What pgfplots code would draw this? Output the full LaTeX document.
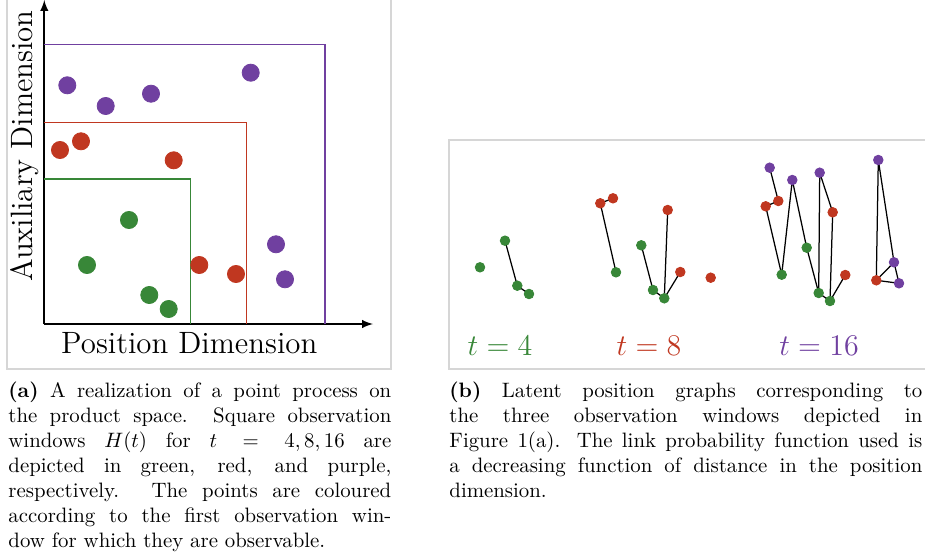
\documentclass[border=0pt]{standalone}
\usepackage{pgfplots}
\pgfplotsset{compat=1.18}
\definecolor{cgreen}{RGB}{56,135,56}
\definecolor{cred}{RGB}{192,55,32}
\definecolor{cpurple}{RGB}{112,64,160}
\definecolor{frame}{RGB}{214,214,214}
\begin{document}
\begin{tikzpicture}[x=0.48pt,y=0.48pt]
\useasboundingbox (0,0) rectangle (925,558);
\clip (0,0) rectangle (925,558);
\draw[frame, line width=0.6pt] (7,189) rectangle (391,580);
\draw[frame, line width=0.6pt] (449,189) rectangle (960,418);
% ---------------- left panel ----------------
\begin{axis}[
  at={(44.3,234)}, anchor=south west,
  x=0.48pt, y=0.48pt,
  xmin=0, xmax=328.7, ymin=0, ymax=324,
  axis lines=left,
  axis line style={line width=0.8pt, -latex},
  xtick=\empty, ytick=\empty,
  clip=false,
]
\addplot[cgreen, line width=0.7pt] coordinates {(0,145) (146.4,145) (146.4,0)};
\addplot[cred, line width=0.7pt] coordinates {(0,201.3) (202.4,201.3) (202.4,0)};
\addplot[cpurple, line width=0.7pt] coordinates {(0,279.7) (280.7,279.7) (280.7,0)};
\addplot[only marks, mark=*, mark size=4.1pt, cpurple, mark options={draw=cpurple, fill=cpurple}]
  coordinates {(23,238.7) (61.4,218) (106.7,230.3) (206.4,251.3) (231.7,79.7) (240.7,44.7)};
\addplot[only marks, mark=*, mark size=4.1pt, cred, mark options={draw=cred, fill=cred}]
  coordinates {(15.7,174) (36.7,182.7) (129.4,163.7) (155,59) (191.7,50)};
\addplot[only marks, mark=*, mark size=4.1pt, cgreen, mark options={draw=cgreen, fill=cgreen}]
  coordinates {(84.7,104) (42.7,59) (105,29) (124.4,15)};
\node[anchor=base] at (axis cs:145,-29) {\fontsize{14.8}{17}\selectfont Position Dimension};
\node[rotate=90, anchor=base] at (axis cs:-12,178) {\fontsize{14.8}{17}\selectfont Auxiliary Dimension};
\end{axis}
% ---------------- right panel ----------------
\begin{axis}[
  at={(449,189)}, anchor=south west,
  x=0.48pt, y=0.48pt,
  xmin=449, xmax=925, ymin=189, ymax=418,
  axis lines=none,
  clip=false,
]
% edges
\addplot[black, line width=0.6pt] coordinates {(505,317.3) (517.3,272.3) (529,264)};
\addplot[black, line width=0.6pt] coordinates {(613,359.7) (600.3,354.7) (616,285.7)};
\addplot[black, line width=0.6pt] coordinates {(641.3,312.7) (653,268) (664.3,259.7) (667.7,348)};
\addplot[black, line width=0.6pt] coordinates {(664.3,259.7) (680.3,286)};
\addplot[black, line width=0.6pt] coordinates {(769.7,390.3) (778.3,357) (765.7,351.7) (781.7,283.3) (792.3,378) (806.7,310.3) (818.7,265) (819.7,385.3) (832.7,345.7) (830,257) (845.3,283)};
\addplot[black, line width=0.6pt] coordinates {(818.7,265) (830,257)};
\addplot[black, line width=0.6pt] coordinates {(876.3,277.7) (878.3,398) (894,295.7) (899,274.7) (876.3,277.7) (894,295.7)};
% nodes
\addplot[only marks, mark=*, mark size=2.3pt, mark options={draw=cgreen, fill=cgreen}]
  coordinates {(480,290.7) (505,317.3) (517.3,272.3) (529,264)
               (616,285.7) (641.3,312.7) (653,268) (664.3,259.7)
               (781.7,283.3) (806.7,310.3) (818.7,265) (830,257)};
\addplot[only marks, mark=*, mark size=2.3pt, mark options={draw=cred, fill=cred}]
  coordinates {(600.3,354.7) (613,359.7) (667.7,348) (680.3,286) (710.7,280.3)
               (765.7,351.7) (778.3,357) (832.7,345.7) (845.3,283) (876.3,277.7)};
\addplot[only marks, mark=*, mark size=2.3pt, mark options={draw=cpurple, fill=cpurple}]
  coordinates {(769.7,390.3) (792.3,378) (819.7,385.3) (878.3,398) (894,295.7) (899,274.7)};
\node[anchor=base, text=cgreen] at (axis cs:500,203) {\fontsize{13.6}{16}\selectfont $t=4$};
\node[anchor=base, text=cred] at (axis cs:649,203) {\fontsize{13.6}{16}\selectfont $t=8$};
\node[anchor=base, text=cpurple] at (axis cs:819,203) {\fontsize{13.6}{16}\selectfont $t=16$};
\end{axis}
% ---------------- captions ----------------
\node[anchor=base west, text width=183.8pt, inner sep=0pt, align=justify] at (8,161)
{\textbf{(a)} A realization of a point process on\linebreak
the product space. Square observation\linebreak
windows $H(t)$ for $t = 4,8,16$ are\linebreak
depicted in green, red, and purple,\linebreak
respectively. The points are coloured\linebreak
according to the first observation win-\linebreak
dow for which they are observable.};
\node[anchor=base west, text width=227pt, inner sep=0pt, align=justify] at (449,161)
{\textbf{(b)} Latent position graphs corresponding to\linebreak
the three observation windows depicted in\linebreak
Figure 1(a). The link probability function used is\linebreak
a decreasing function of distance in the position\linebreak
dimension.};
\end{tikzpicture}
\end{document}
